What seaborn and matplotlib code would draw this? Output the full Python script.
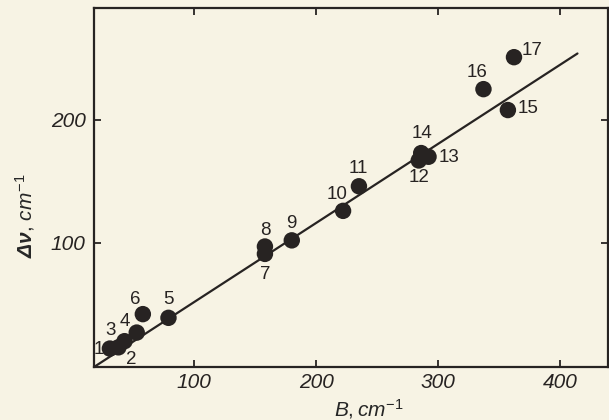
import matplotlib
matplotlib.use("Agg")
import matplotlib.pyplot as plt
import seaborn as sns
import pandas as pd

# Rotational constant B vs. splitting Δν for the numbered compounds
labels = ["1", "2", "3", "4", "5", "6", "7", "8", "9", "10",
          "11", "12", "13", "14", "15", "16", "17"]
b_vals = [31, 38, 43, 53, 79, 58, 158, 158, 180, 222,
          235, 284, 292, 286, 357, 337, 362]
dnu_vals = [14, 15, 20, 27, 39, 42, 91, 97, 102, 126,
            146, 167, 170, 173, 208, 225, 251]

# Straight-line fit through the points (end points)
fit_b = [18, 414]
fit_dnu = [-1, 254]

x_ticks = [100, 200, 300, 400]
y_ticks = [100, 200]

# Label offsets (pixels) for each numbered point
label_dx = [-11, 13, -14, -12, 0, -8, 0, 0, 0, -6, -1, 0, 20, 1, 20, -6, 18]
label_dy = [-1, -12, 11, 11, 18, 15, -21, 16, 17, 16, 18, -17, -1, 20, 2, 17, 7]

paper = "#f7f3e4"
ink = "#272322"

sns.set_style("ticks")
plt.rcParams.update({
    "font.family": ["Liberation Sans", "DejaVu Sans"],
    "mathtext.fontset": "custom",
    "mathtext.rm": "Liberation Sans",
    "mathtext.it": "Liberation Sans:italic",
    "mathtext.bf": "Liberation Sans:bold:italic",
    "axes.edgecolor": ink,
    "text.color": ink,
    "xtick.color": ink,
    "ytick.color": ink,
})

df = pd.DataFrame({"B": b_vals, "dnu": dnu_vals, "label": labels})
fit = pd.DataFrame({"B": fit_b, "dnu": fit_dnu})

fig = plt.figure(figsize=(6.09, 4.20), dpi=100, facecolor=paper)
ax = fig.add_axes([94 / 609, 1 - 367 / 420, (608 - 94) / 609, (367 - 8) / 420])
ax.set_facecolor(paper)

sns.lineplot(data=fit, x="B", y="dnu", ax=ax, color=ink, linewidth=1.6)
sns.scatterplot(data=df, x="B", y="dnu", ax=ax, color=ink, s=140,
                edgecolor="none", zorder=3)

for lab, xv, yv, dx, dy in zip(labels, b_vals, dnu_vals, label_dx, label_dy):
    ax.annotate(lab, (xv, yv), xytext=(dx, dy), textcoords="offset pixels",
                ha="center", va="center", fontsize=13.5, color=ink)

ax.set_xlim(18, 439)
ax.set_ylim(-1, 291)
ax.set_xticks(x_ticks)
ax.set_yticks(y_ticks)
ax.set_xticklabels([str(t) for t in x_ticks], fontstyle="italic", fontsize=15)
ax.set_yticklabels([str(t) for t in y_ticks], fontstyle="italic", fontsize=15)
ax.tick_params(direction="in", length=5, width=1.3, top=True, right=True)
ax.tick_params(axis="x", pad=4)
ax.tick_params(axis="y", pad=6)

for sp in ax.spines.values():
    sp.set_linewidth(1.6)
    sp.set_visible(True)

ax.set_xlabel(r"$B,cm^{-1}$", fontsize=15)
ax.set_ylabel(r"$\mathbf{\Delta\nu}$, $cm^{-1}$", fontsize=15)
ax.xaxis.set_label_coords(0.535, -0.085)
ax.yaxis.set_label_coords(-0.11, 0.42)

fig.savefig("out.png", dpi=100, facecolor=paper)
